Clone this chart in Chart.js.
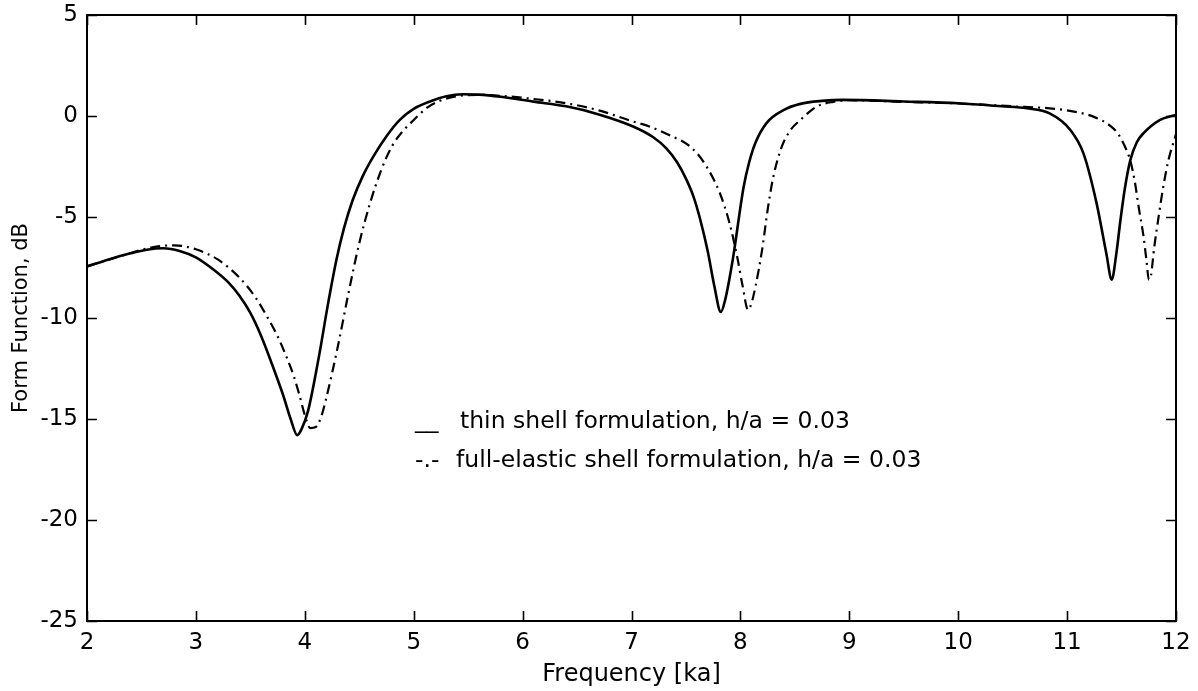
<!DOCTYPE html>
<html><head><meta charset="utf-8">
<script src="https://cdn.jsdelivr.net/npm/chart.js@4.4.0/dist/chart.umd.min.js"></script>
<style>html,body{margin:0;padding:0;background:#fff;}canvas{display:block;}</style>
</head><body>
<canvas id="c" width="1198" height="691"></canvas>
<script>
// ---- data ----
const thinX = [2.0, 2.2, 2.4, 2.55, 2.7, 2.85, 3.0, 3.16, 3.3, 3.4, 3.5, 3.6, 3.7, 3.8, 3.87, 3.93, 3.97, 4.03, 4.13, 4.21, 4.29, 4.36, 4.44, 4.53, 4.63, 4.75, 4.87, 5.0, 5.15, 5.3, 5.45, 5.6, 5.8, 6.1, 6.4, 6.7, 7.02, 7.2, 7.32, 7.42, 7.5, 7.57, 7.63, 7.7, 7.76, 7.82, 7.86, 7.93, 8.03, 8.08, 8.14, 8.24, 8.4, 8.55, 8.75, 8.94, 9.5, 10.0, 10.4, 10.63, 10.84, 11.03, 11.15, 11.27, 11.36, 11.41, 11.45, 11.49, 11.53, 11.58, 11.64, 11.7, 11.85, 11.96, 12.0];
const thinY = [-7.45, -7.1, -6.8, -6.62, -6.55, -6.68, -7.0, -7.6, -8.25, -8.9, -9.75, -10.9, -12.3, -13.8, -15.0, -15.8, -15.5, -14.6, -11.9, -9.4, -7.13, -5.55, -4.16, -3.0, -2.0, -1.0, -0.2, 0.35, 0.72, 0.98, 1.08, 1.06, 0.95, 0.71, 0.48, 0.08, -0.53, -1.05, -1.6, -2.3, -3.1, -4.0, -5.1, -6.7, -8.4, -9.7, -9.1, -7.1, -3.5, -2.3, -1.3, -0.35, 0.3, 0.6, 0.75, 0.8, 0.72, 0.63, 0.48, 0.38, 0.13, -0.69, -1.85, -4.3, -6.8, -8.1, -6.9, -5.15, -3.6, -2.2, -1.3, -0.86, -0.2, 0.0, 0.05];

const fullX = [2.0, 2.3, 2.6, 2.8, 3.0, 3.2, 3.4, 3.55, 3.65, 3.75, 3.83, 3.9, 3.95, 4.0, 4.05, 4.1, 4.15, 4.2, 4.3, 4.4, 4.5, 4.6, 4.7, 4.8, 4.9, 5.0, 5.12, 5.24, 5.4, 5.6, 5.8, 6.0, 6.4, 6.7, 7.0, 7.17, 7.35, 7.54, 7.66, 7.81, 7.9, 7.97, 8.02, 8.07, 8.1, 8.14, 8.2, 8.25, 8.3, 8.38, 8.46, 8.55, 8.7, 8.85, 9.0, 9.5, 10.0, 10.5, 10.84, 11.0, 11.24, 11.4, 11.47, 11.53, 11.58, 11.62, 11.66, 11.7, 11.73, 11.75, 11.77, 11.8, 11.84, 11.88, 11.93, 12.0];
const fullY = [-7.45, -6.95, -6.5, -6.4, -6.6, -7.1, -8.0, -9.0, -9.9, -10.9, -11.9, -12.9, -13.8, -14.8, -15.45, -15.4, -14.9, -13.9, -11.5, -8.8, -6.3, -4.3, -2.7, -1.5, -0.75, -0.2, 0.4, 0.75, 0.98, 1.05, 1.0, 0.9, 0.63, 0.28, -0.25, -0.53, -0.95, -1.52, -2.26, -3.8, -5.3, -6.96, -8.4, -9.6, -9.3, -8.4, -6.6, -4.65, -3.07, -1.52, -0.7, -0.2, 0.46, 0.7, 0.78, 0.7, 0.62, 0.48, 0.38, 0.28, -0.03, -0.5, -0.9, -1.5, -2.2, -3.2, -4.6, -5.9, -7.2, -8.1, -7.9, -6.5, -5.0, -3.6, -2.2, -0.9];

const xRange = [2, 12];
const yRange = [-25, 5];
const xStep = 1;
const yStep = 5;

const seriesNames = ['thin shell formulation, h/a = 0.03', 'full-elastic shell formulation, h/a = 0.03'];
const seriesMarks = ['__', '-.-'];
const xTitle = 'Frequency [ka]';
const yTitle = 'Form Function, dB';

// ---- chart ----
const FONT = 'DejaVu Sans';
const toPts = (xs, ys) => xs.map((x, i) => ({x: x, y: ys[i]}));

const framePlugin = {
  id: 'frame',
  afterDatasetsDraw(chart) {
    const {ctx, chartArea: a, scales: {x, y}} = chart;
    ctx.save();
    ctx.strokeStyle = '#000';
    ctx.lineWidth = 2;
    ctx.strokeRect(a.left, a.top, a.right - a.left, a.bottom - a.top);
    ctx.lineWidth = 1.6;
    ctx.beginPath();
    const tl = 10;
    x.ticks.forEach(t => {
      const p = Math.round(x.getPixelForValue(t.value)) + 0.5;
      ctx.moveTo(p, a.bottom); ctx.lineTo(p, a.bottom - tl);
      ctx.moveTo(p, a.top); ctx.lineTo(p, a.top + tl);
    });
    y.ticks.forEach(t => {
      const p = Math.round(y.getPixelForValue(t.value)) + 0.5;
      ctx.moveTo(a.left, p); ctx.lineTo(a.left + tl, p);
      ctx.moveTo(a.right, p); ctx.lineTo(a.right - tl, p);
    });
    ctx.stroke();
    // legend text
    ctx.fillStyle = '#000';
    ctx.font = '23.5px "' + FONT + '"';
    ctx.textBaseline = 'alphabetic';
    ctx.textAlign = 'left';
    const lx = a.left + 328, ly = a.top + 413, gap = 39;
    seriesMarks.forEach((m, i) => {
      ctx.fillText(m, lx, ly + i * gap);
      ctx.fillText(seriesNames[i], lx + 45 - i * 4, ly + i * gap);
    });
    ctx.restore();
  }
};

new Chart(document.getElementById('c'), {
  type: 'line',
  data: {
    datasets: [
      {label: seriesNames[0], data: toPts(thinX, thinY), borderColor: '#000', borderWidth: 2.6,
       pointRadius: 0, cubicInterpolationMode: 'monotone', fill: false},
      {label: seriesNames[1], data: toPts(fullX, fullY), borderColor: '#000', borderWidth: 2.2,
       borderDash: [10, 5, 2, 5], pointRadius: 0, cubicInterpolationMode: 'monotone', fill: false}
    ]
  },
  options: {
    responsive: false,
    devicePixelRatio: 1,
    animation: false,
    layout: {padding: {top: 15, right: 22, bottom: 0, left: 0}},
    plugins: {legend: {display: false}, tooltip: {enabled: false}, title: {display: false}},
    scales: {
      x: {
        type: 'linear', min: xRange[0], max: xRange[1],
        ticks: {stepSize: xStep, color: '#000', font: {family: FONT, size: 23}, padding: 8, maxRotation: 0, autoSkip: false},
        grid: {display: false, drawTicks: false},
        border: {display: false},
        title: {display: true, text: xTitle, color: '#000', font: {family: FONT, size: 24}, padding: {top: 0, bottom: 2}},
        afterFit(s) { s.height = 70; s.paddingLeft = 0; s.paddingRight = 0; }
      },
      y: {
        type: 'linear', min: yRange[0], max: yRange[1],
        ticks: {stepSize: yStep, color: '#000', font: {family: FONT, size: 23}, padding: 9},
        grid: {display: false, drawTicks: false},
        border: {display: false},
        title: {display: true, text: yTitle, color: '#000', font: {family: FONT, size: 21}, padding: {top: 9, bottom: 0}},
        afterFit(s) { s.width = 87; s.paddingTop = 0; s.paddingBottom = 0; }
      }
    }
  },
  plugins: [framePlugin]
});
</script>
</body></html>
